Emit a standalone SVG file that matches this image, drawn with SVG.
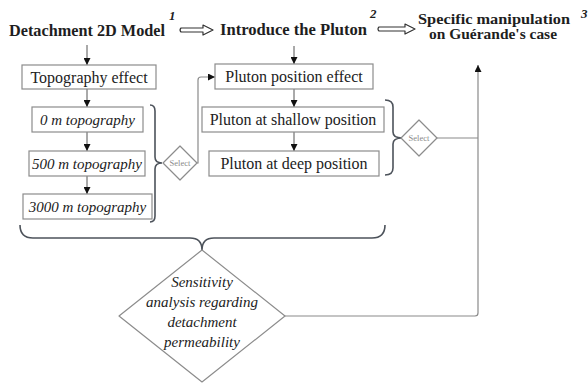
<svg xmlns="http://www.w3.org/2000/svg" width="588" height="383" viewBox="0 0 588 383">
<style>
text{font-family:"Liberation Serif","Times New Roman","DejaVu Serif",serif}
.title{font-weight:bold;font-size:16px;fill:#1e1e1e}
.title3{font-weight:bold;font-size:15px;fill:#1e1e1e}
.num{font-weight:bold;font-style:italic;font-size:13px;fill:#1e1e1e}
.box{fill:#fff;stroke:#8c8c8c;stroke-width:1.2}
.t{font-size:16px;fill:#222;text-anchor:middle}
.ti{font-style:italic;font-size:15px;fill:#222;text-anchor:middle}
.sel{font-size:8.5px;fill:#8a8a8a;text-anchor:middle}
.dia{fill:#fff;stroke:#8c8c8c;stroke-width:1.2;stroke-linejoin:round}
.con{fill:none;stroke:#8a8a8a;stroke-width:1.2}
.arr{fill:none;stroke:#555;stroke-width:1}
.brace{fill:none;stroke:#4d535b;stroke-width:1.6}
.hollow{fill:#fff;stroke:#333;stroke-width:1.2;stroke-linejoin:round}
</style>
<defs>
<marker id="ah" viewBox="0 0 8 8" refX="8" refY="4" markerWidth="7" markerHeight="7" markerUnits="userSpaceOnUse" orient="auto">
<path d="M0,0 L8,4 L0,8 Z" fill="#111"/>
</marker>
</defs>

<g id="title1">
<text class="title" x="9" y="36" textLength="156" lengthAdjust="spacingAndGlyphs">Detachment 2D Model</text>
<text class="num" x="169" y="20">1</text>
</g>
<g id="title2">
<text class="title" x="220" y="35" textLength="147" lengthAdjust="spacingAndGlyphs">Introduce the Pluton</text>
<text class="num" x="370" y="18">2</text>
</g>
<g id="title3">
<text class="title3" x="418" y="24" textLength="152" lengthAdjust="spacingAndGlyphs">Specific manipulation</text>
<text class="title3" x="429" y="38.5" textLength="128" lengthAdjust="spacingAndGlyphs">on Guérande's case</text>
<text class="num" x="581" y="18">3</text>
</g>

<g id="connectors">
<path class="hollow" d="M181,28 L203,28 L203,25 L213,30 L203,35 L203,32 L181,32 Q179,30 181,28 Z"/>
<path class="hollow" d="M379,27 L405,27 L405,24 L415,29 L405,34 L405,31 L379,31 Q377,29 379,27 Z"/>
<path class="arr" d="M87,45 V65" marker-end="url(#ah)"/>
<path class="arr" d="M87,89 V107" marker-end="url(#ah)"/>
<path class="arr" d="M87,132 V151" marker-end="url(#ah)"/>
<path class="arr" d="M87,176 V194" marker-end="url(#ah)"/>
<path class="arr" d="M294,46 V64" marker-end="url(#ah)"/>
<path class="arr" d="M294,89 V107" marker-end="url(#ah)"/>
<path class="arr" d="M294,132 V151" marker-end="url(#ah)"/>
<path class="con" d="M197,163 H198 V80 Q198,77 201,77 H215" marker-end="url(#ah)"/>
<path class="con" d="M436,138 H478"/>
<path class="con" d="M285,316 H475 Q478,316 478,313 V65" marker-end="url(#ah)"/>
<path class="brace" d="M150,105 Q155,105 155,111 L155,157 Q155,163 162,163 Q155,163 155,169 L155,216 Q155,222 150,222"/>
<path class="brace" d="M385,100 Q393,100 393,107 L393,132 Q393,138 402,138 Q393,138 393,144 L393,168 Q393,175 385,175"/>
<path class="brace" d="M20,225 Q20,238 33,238 H190 Q202,238 202,250 Q202,238 214,238 H372 Q385,238 385,225"/>
</g>

<g id="topo-effect">
<rect class="box" x="22" y="65" width="134" height="24"/>
<text class="t" x="89" y="82.5">Topography effect</text>
</g>
<g id="topo-0">
<rect class="box" x="32" y="107" width="111" height="25"/>
<text class="ti" x="87.5" y="124.5">0 m topography</text>
</g>
<g id="topo-500">
<rect class="box" x="29" y="151" width="116" height="25"/>
<text class="ti" x="87" y="168.5">500 m topography</text>
</g>
<g id="topo-3000">
<rect class="box" x="23" y="194" width="129" height="25"/>
<text class="ti" x="87.5" y="211.5">3000 m topography</text>
</g>
<g id="select1">
<path class="dia" d="M180,146 L197,163 L180,180 L163,163 Z"/>
<text class="sel" x="180" y="166">Select</text>
</g>
<g id="pluton-effect">
<rect class="box" x="215" y="64" width="158" height="25"/>
<text class="t" x="294" y="82">Pluton position effect</text>
</g>
<g id="pluton-shallow">
<rect class="box" x="202" y="107" width="182" height="25"/>
<text class="t" x="293" y="125">Pluton at shallow position</text>
</g>
<g id="pluton-deep">
<rect class="box" x="209" y="151" width="170" height="25"/>
<text class="t" x="294" y="169">Pluton at deep position</text>
</g>
<g id="select2">
<path class="dia" d="M419,120 L437,138 L419,156 L401,138 Z"/>
<text class="sel" x="419" y="141">Select</text>
</g>
<g id="sensitivity">
<path class="dia" d="M202,250 L285,316 L202,382 L119,316 Z"/>
<text class="ti" x="202" y="287">Sensitivity</text>
<text class="ti" x="202" y="307">analysis regarding</text>
<text class="ti" x="202" y="327">detachment</text>
<text class="ti" x="202" y="347">permeability</text>
</g>
</svg>
